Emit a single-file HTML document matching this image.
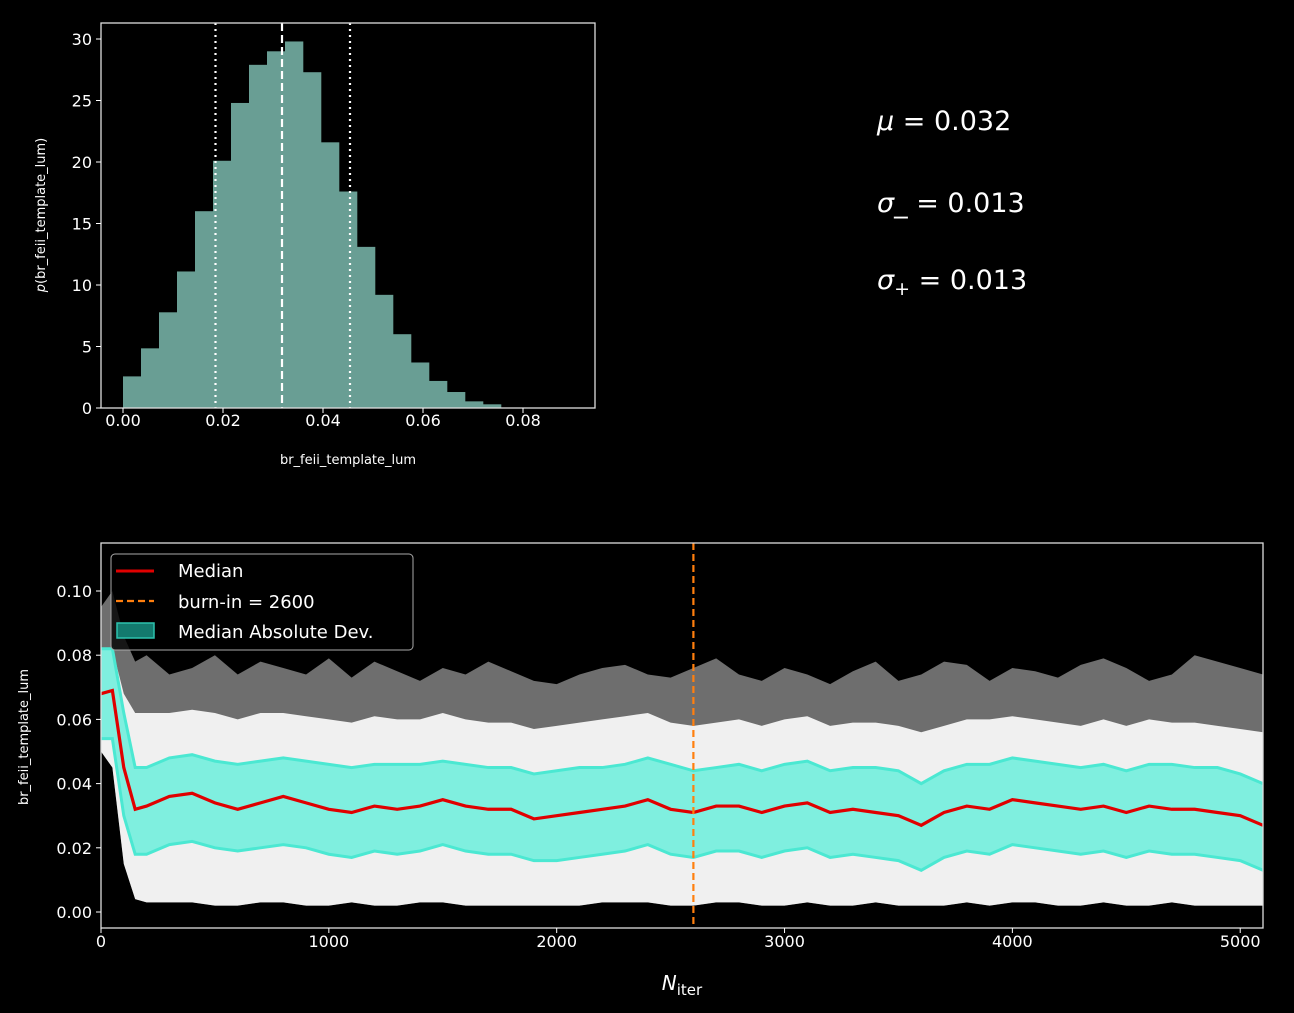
<!DOCTYPE html>
<html><head><meta charset="utf-8">
<style>
body{margin:0;background:#000;}
svg{display:block;font-family:"DejaVu Sans","Liberation Sans",sans-serif;}
</style></head>
<body>
<svg id="fig" width="1294" height="1013" viewBox="0 0 1294 1013">
<rect x="0" y="0" width="1294" height="1013" fill="#000"/>
<g id="hist"></g>
<g id="stats">
<text x="877" y="130" fill="#fff" font-size="27"><tspan font-style="italic">μ</tspan> = 0.032</text>
<text x="877" y="212" fill="#fff" font-size="27"><tspan font-style="italic">σ</tspan>_ = 0.013</text>
<text x="877" y="289" fill="#fff" font-size="27"><tspan font-style="italic">σ</tspan><tspan font-size="19" dy="6">+</tspan><tspan dy="-6"> = 0.013</tspan></text>
</g>
<g id="trace"></g>
</svg>
<script>
// ---------- Histogram data ----------
const histBinWidth = 0.0036;
const histCounts = [2.57,4.85,7.78,11.1,16.0,20.1,24.8,27.9,29.0,29.8,27.3,21.6,17.6,13.1,9.2,6.0,3.7,2.2,1.3,0.54,0.3];
const histXTicks = [0.00,0.02,0.04,0.06,0.08];
const histYTicks = [0,5,10,15,20,25,30];
const histMedian = 0.0318, histLow = 0.0185, histHigh = 0.0454;

// ---------- Trace data ----------
const traceIters = [0,50,100,150,200,300,400,500,600,700,800,900,1000,1100,1200,1300,1400,1500,1600,1700,1800,1900,2000,2100,2200,2300,2400,2500,2600,2700,2800,2900,3000,3100,3200,3300,3400,3500,3600,3700,3800,3900,4000,4100,4200,4300,4400,4500,4600,4700,4800,4900,5000,5100];
const traceMedian = [0.068,0.069,0.045,0.032,0.033,0.036,0.037,0.034,0.032,0.034,0.036,0.034,0.032,0.031,0.033,0.032,0.033,0.035,0.033,0.032,0.032,0.029,0.030,0.031,0.032,0.033,0.035,0.032,0.031,0.033,0.033,0.031,0.033,0.034,0.031,0.032,0.031,0.030,0.027,0.031,0.033,0.032,0.035,0.034,0.033,0.032,0.033,0.031,0.033,0.032,0.032,0.031,0.030,0.027];
const traceMadHi = [0.082,0.082,0.062,0.045,0.045,0.048,0.049,0.047,0.046,0.047,0.048,0.047,0.046,0.045,0.046,0.046,0.046,0.047,0.046,0.045,0.045,0.043,0.044,0.045,0.045,0.046,0.048,0.046,0.044,0.045,0.046,0.044,0.046,0.047,0.044,0.045,0.045,0.044,0.040,0.044,0.046,0.046,0.048,0.047,0.046,0.045,0.046,0.044,0.046,0.046,0.045,0.045,0.043,0.040];
const traceMadLo = [0.054,0.054,0.030,0.018,0.018,0.021,0.022,0.020,0.019,0.020,0.021,0.020,0.018,0.017,0.019,0.018,0.019,0.021,0.019,0.018,0.018,0.016,0.016,0.017,0.018,0.019,0.021,0.018,0.017,0.019,0.019,0.017,0.019,0.020,0.017,0.018,0.017,0.016,0.013,0.017,0.019,0.018,0.021,0.020,0.019,0.018,0.019,0.017,0.019,0.018,0.018,0.017,0.016,0.013];
const traceCloudMax = [0.095,0.100,0.086,0.078,0.080,0.074,0.076,0.080,0.074,0.078,0.076,0.074,0.079,0.073,0.078,0.075,0.072,0.076,0.074,0.078,0.075,0.072,0.071,0.074,0.076,0.077,0.074,0.073,0.076,0.079,0.074,0.072,0.076,0.074,0.071,0.075,0.078,0.072,0.074,0.078,0.077,0.072,0.076,0.075,0.073,0.077,0.079,0.076,0.072,0.074,0.080,0.078,0.076,0.074];
const traceCloudHi = [0.082,0.082,0.068,0.062,0.062,0.062,0.063,0.062,0.060,0.062,0.062,0.061,0.060,0.059,0.061,0.060,0.060,0.062,0.060,0.059,0.059,0.057,0.058,0.059,0.060,0.061,0.062,0.059,0.058,0.059,0.060,0.058,0.060,0.061,0.058,0.059,0.059,0.058,0.056,0.058,0.060,0.060,0.061,0.060,0.059,0.058,0.060,0.058,0.060,0.059,0.059,0.058,0.057,0.056];
const traceCloudLo = [0.050,0.045,0.015,0.004,0.003,0.003,0.003,0.002,0.002,0.003,0.003,0.002,0.002,0.003,0.002,0.002,0.003,0.003,0.002,0.002,0.002,0.002,0.002,0.002,0.003,0.003,0.003,0.002,0.002,0.003,0.003,0.002,0.002,0.003,0.002,0.002,0.003,0.002,0.002,0.002,0.003,0.002,0.003,0.003,0.002,0.002,0.003,0.002,0.002,0.003,0.002,0.002,0.002,0.002];
const traceXTicks = [0,1000,2000,3000,4000,5000];
const traceYTicks = [0.00,0.02,0.04,0.06,0.08,0.10];
const burnIn = 2600;

const NS='http://www.w3.org/2000/svg';
function mk(parent,tag,attrs){const e=document.createElementNS(NS,tag);for(const k in attrs)e.setAttribute(k,attrs[k]);parent.appendChild(e);return e;}

// ---------- Histogram ----------
(function(){
  const g=document.getElementById('hist');
  const L=101,R=595,T=23,B=408;
  const xs=v=>123+(v-0)*5000;
  const ys=v=>408-v*12.3;
  histCounts.forEach((c,i)=>{
    const x0=xs(i*histBinWidth), x1=xs((i+1)*histBinWidth);
    const r=mk(g,'rect',{x:x0,y:ys(c),width:x1-x0+0.3,height:ys(0)-ys(c),fill:'#699e94'});
    
    
  });
  [[histLow,'2,4'],[histMedian,'8,4'],[histHigh,'2,4']].forEach(([v,d])=>{
    const l=mk(g,'line',{x1:xs(v),x2:xs(v),y1:T,y2:B,stroke:'#fff','stroke-width':2.2,'stroke-dasharray':d});
    
    
  });
  const f=mk(g,'rect',{x:L,y:T,width:R-L,height:B-T,fill:'none',stroke:'#ddd','stroke-width':1.3});
  
  
  histXTicks.forEach(v=>{
    mk(g,'line',{x1:xs(v),x2:xs(v),y1:B,y2:B+5,stroke:'#fff'});
    const t=mk(g,'text',{x:xs(v),y:B+18,fill:'#fff','font-size':16,'text-anchor':'middle'});t.textContent=v.toFixed(2);
    
    
  });
  histYTicks.forEach(v=>{
    mk(g,'line',{x1:L,x2:L-5,y1:ys(v),y2:ys(v),stroke:'#fff'});
    const t=mk(g,'text',{x:L-9,y:ys(v)+6,fill:'#fff','font-size':16,'text-anchor':'end'});t.textContent=v;
    
    
  });
  const xl=mk(g,'text',{x:348,y:464,fill:'#fff','font-size':13,'text-anchor':'middle'});xl.textContent='br_feii_template_lum';
  
  
  const yl=mk(g,'text',{x:0,y:0,fill:'#fff','font-size':13,'text-anchor':'middle',transform:'translate(45,215) rotate(-90)'});
  yl.innerHTML='<tspan font-style="italic">p</tspan>(br_feii_template_lum)';
  
  
})();

// ---------- Trace ----------
(function(){
  const g=document.getElementById('trace');
  const L=101,R=1263,T=543,B=928;
  const xs=v=>L+v*(R-L)/5100;
  const ys=v=>912-v*3210;
  const clip=mk(g,'clipPath',{id:'tc'});mk(clip,'rect',{x:L,y:T,width:R-L,height:B-T});
  const inner=mk(g,'g',{'clip-path':'url(#tc)'});
  function band(hi,lo,attrs,name){
    let d='M'+traceIters.map((it,i)=>xs(it)+','+ys(hi[i])).join('L');
    d+='L'+traceIters.slice().reverse().map((it,j)=>{const i=traceIters.length-1-j;return xs(it)+','+ys(lo[i]);}).join('L')+'Z';
    const p=mk(inner,'path',Object.assign({d:d},attrs));
    
    
    return p;
  }
  band(traceCloudMax,traceCloudLo,{fill:'#6e6e6e'},'walker-cloud-outer');
  band(traceCloudHi,traceCloudLo,{fill:'#f0f0f0'},'walker-cloud-inner');
  band(traceMadHi,traceMadLo,{fill:'#7fefdf'},'mad-band');
  function line(arr,attrs,name){
    const p=mk(inner,'polyline',Object.assign({points:traceIters.map((it,i)=>xs(it)+','+ys(arr[i])).join(' '),fill:'none'},attrs));
    
    
  }
  line(traceMadHi,{stroke:'#4be8d2','stroke-width':3},'mad-upper-edge');
  line(traceMadLo,{stroke:'#4be8d2','stroke-width':3},'mad-lower-edge');
  line(traceMedian,{stroke:'#e00000','stroke-width':3.2},'median-line');
  const bl=mk(inner,'line',{x1:xs(burnIn),x2:xs(burnIn),y1:T,y2:B,stroke:'#ff7f0e','stroke-width':2.2,'stroke-dasharray':'7,4'});
  
  
  const f=mk(g,'rect',{x:L,y:T,width:R-L,height:B-T,fill:'none',stroke:'#ddd','stroke-width':1.3});
  
  
  traceXTicks.forEach(v=>{
    mk(g,'line',{x1:xs(v),x2:xs(v),y1:B,y2:B+5,stroke:'#fff'});
    const t=mk(g,'text',{x:xs(v),y:B+19,fill:'#fff','font-size':16,'text-anchor':'middle'});t.textContent=v;
    
    
  });
  traceYTicks.forEach(v=>{
    mk(g,'line',{x1:L,x2:L-5,y1:ys(v),y2:ys(v),stroke:'#fff'});
    const t=mk(g,'text',{x:L-9,y:ys(v)+6,fill:'#fff','font-size':16,'text-anchor':'end'});t.textContent=v.toFixed(2);
    
    
  });
  const xl=mk(g,'text',{x:682,y:990,fill:'#fff','font-size':20,'text-anchor':'middle'});
  xl.innerHTML='<tspan font-style="italic">N</tspan><tspan font-size="15" dy="5">iter</tspan>';
  
  
  const yl=mk(g,'text',{x:0,y:0,fill:'#fff','font-size':13,'text-anchor':'middle',transform:'translate(28,737) rotate(-90)'});
  yl.textContent='br_feii_template_lum';
  
  
  // legend
  const lg=mk(g,'g',{});
  
  
  mk(lg,'rect',{x:111,y:554,width:302,height:96,rx:4,fill:'#000','fill-opacity':0.8,stroke:'#aaa','stroke-width':1});
  mk(lg,'line',{x1:116,x2:154,y1:571,y2:571,stroke:'#e00000','stroke-width':3});
  mk(lg,'line',{x1:116,x2:154,y1:601,y2:601,stroke:'#ff7f0e','stroke-width':2.2,'stroke-dasharray':'7,4'});
  mk(lg,'rect',{x:117,y:623,width:37,height:15,fill:'#137a6e',stroke:'#2cc2ae','stroke-width':1.5});
  [['Median',577],['burn-in = 2600',608],['Median Absolute Dev.',638]].forEach(([s,y])=>{
    const t=mk(lg,'text',{x:178,y:y,fill:'#fff','font-size':18});t.textContent=s;
    
    
  });
})();
</script>
</body></html>
